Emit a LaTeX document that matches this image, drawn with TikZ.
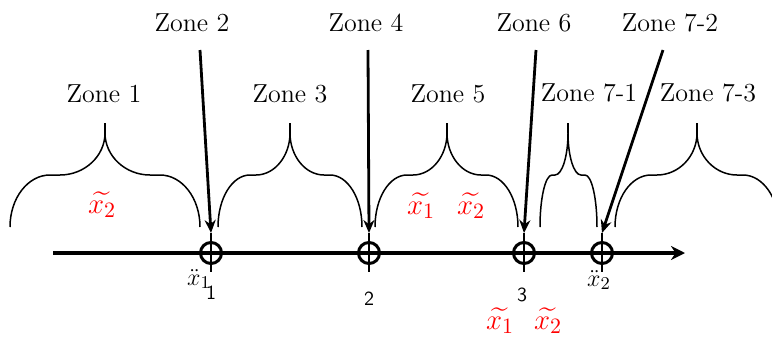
\documentclass[tikz,border=0pt]{standalone}
\usepackage{amsmath,amssymb}
\usepackage{tikz}
\usetikzlibrary{arrows.meta,positioning}
\usepackage{xcolor}

\tikzset{
  zonelabel/.style={font=\fontsize{13}{15}\selectfont, inner sep=0pt},
  zonebrace/.style={line width=0.75pt},
  zonearrow/.style={line width=1.4pt,-{Stealth[length=6.5pt,width=5.5pt]}},
  axisline/.style={line width=2pt,-{Stealth[length=7pt,width=7pt]}},
  knot/.style={circle,draw,line width=1.5pt,minimum size=10.5pt,inner sep=0pt},
  ticklabel/.style={font=\sffamily\fontsize{10}{12}\selectfont,inner sep=0pt},
  acclabel/.style={font=\fontsize{13}{15}\selectfont,inner sep=0pt},
  estlabel/.style={red,font=\fontsize{15}{17}\selectfont,inner sep=0pt},
}

\begin{document}
\begin{tikzpicture}[x=0.5pt,y=0.5pt]
  \useasboundingbox (0,0) rectangle (772,339);
  % axis
  \coordinate (axstart) at (53,86);
  \coordinate (axend) at (685,86);
  \draw[axisline] (axstart) -- (axend);
  % points on the axis
  \foreach \n/\x in {1/211,2/369,3/524,4/602} {
    \node[knot] (k\n) at (\x,86) {};
    \coordinate (t\n) at (\x,106);
    \coordinate (b\n) at (\x,67);
    \draw[line width=1pt] (t\n) -- (b\n);
  }
  % braces
  \foreach \xl/\xm/\xr/\ra/\rb in {10/105/200/40/45, 218/290/362/32/34, 375/447/518/32/34, 540/568/597/12/13, 615/697/779/36/40} {
    \draw[zonebrace] (\xl,112) .. controls (\xl,141) and ({\xl+0.45*\ra},164) .. ({\xl+\ra},164)
      -- ({\xm-\rb},164) .. controls ({\xm-0.45*\rb},164) and (\xm,183) .. (\xm,206)
      .. controls (\xm,183) and ({\xm+0.45*\rb},164) .. ({\xm+\rb},164)
      -- ({\xr-\ra},164) .. controls ({\xr-0.45*\ra},164) and (\xr,141) .. (\xr,112);
    \draw[zonebrace] (\xm,206) -- (\xm,216);
  }
  % zone labels
  \node[zonelabel] (z1) at (104,245) {Zone 1};
  \node[zonelabel] (z2) at (192,316) {Zone 2};
  \node[zonelabel] (z3) at (290,245) {Zone 3};
  \node[zonelabel] (z4) at (366,316) {Zone 4};
  \node[zonelabel] (z5) at (448,245) {Zone 5};
  \node[zonelabel] (z6) at (534,316) {Zone 6};
  \node[zonelabel] (z71) at (589,246) {Zone 7-1};
  \node[zonelabel] (z72) at (670,316) {Zone 7-2};
  \node[zonelabel] (z73) at (708,246) {Zone 7-3};
  % arrows to the points
  \coordinate (s2) at (200,289);
  \coordinate (s4) at (368,289);
  \coordinate (s6) at (536,289);
  \coordinate (s72) at (663,289);
  \draw[zonearrow] (s2) -- (t1);
  \draw[zonearrow] (s4) -- (t2);
  \draw[zonearrow] (s6) -- (t3);
  \draw[zonearrow] (s72) -- (t4);
  % labels under the axis
  \node[ticklabel] (n1) at (211,46) {1};
  \node[ticklabel] (n2) at (369,40) {2};
  \node[ticklabel] (n3) at (522,44) {3};
  \node[acclabel] (a1) at (199,60) {$\ddot{x}_1$};
  \node[acclabel] (a2) at (599,59) {$\ddot{x}_2$};
  % estimates
  \node[estlabel] (e1) at (102,134) {$\widetilde{x_2}$};
  \node[estlabel] (e2) at (421,133) {$\widetilde{x_1}$};
  \node[estlabel] (e3) at (471,133) {$\widetilde{x_2}$};
  \node[estlabel] (e4) at (500,18) {$\widetilde{x_1}$};
  \node[estlabel] (e5) at (548,18) {$\widetilde{x_2}$};
\end{tikzpicture}
\end{document}
